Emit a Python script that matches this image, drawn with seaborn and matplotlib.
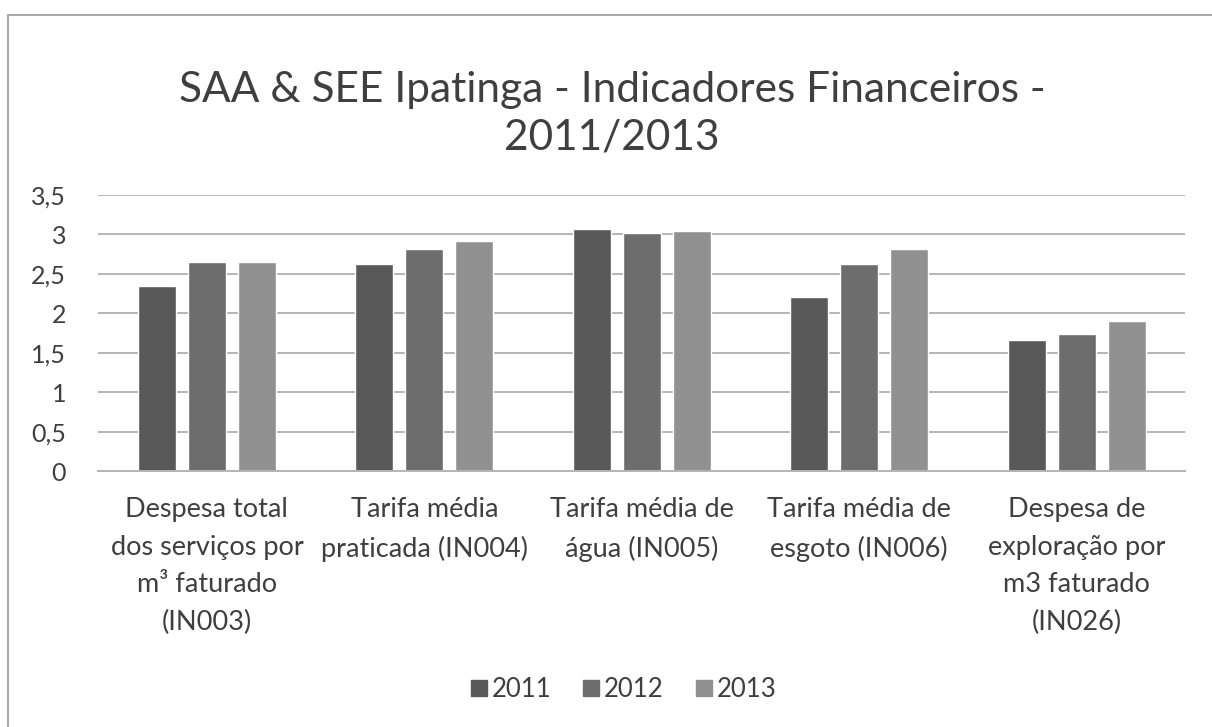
import matplotlib
matplotlib.use("Agg")
import matplotlib.pyplot as plt
import seaborn as sns
import pandas as pd
from matplotlib.lines import Line2D

categories = [
    "Despesa total\ndos serviços por\nm³ faturado\n(IN003)",
    "Tarifa média\npraticada (IN004)",
    "Tarifa média de\nágua (IN005)",
    "Tarifa média de\nesgoto (IN006)",
    "Despesa de\nexploração por\nm3 faturado\n(IN026)",
]
years = ["2011", "2012", "2013"]
values_2011 = [2.34, 2.63, 3.07, 2.21, 1.66]
values_2012 = [2.65, 2.81, 3.02, 2.62, 1.74]
values_2013 = [2.65, 2.92, 3.04, 2.81, 1.90]
y_ticks = [0, 0.5, 1, 1.5, 2, 2.5, 3, 3.5]
y_tick_labels = ["0", "0,5", "1", "1,5", "2", "2,5", "3", "3,5"]
title_lines = ["SAA & SEE Ipatinga - Indicadores Financeiros -", "2011/2013"]

colors = ["#595959", "#6d6d6d", "#919191"]

rows = []
for yr, vals in zip(years, [values_2011, values_2012, values_2013]):
    for c, v in zip(categories, vals):
        rows.append({"cat": c, "year": yr, "value": v})
df = pd.DataFrame(rows)

sns.set_theme(style="white")
plt.rcParams["font.family"] = ["Lato", "DejaVu Sans"]
text_color = "#3f3f3f"

fig = plt.figure(figsize=(12.12, 7.27), dpi=100)
ax = fig.add_axes([0.081, 0.352, 0.897, 0.380])

sns.barplot(data=df, x="cat", y="value", hue="year", order=categories,
            hue_order=years, palette=colors, width=0.69, gap=0.24,
            ax=ax, legend=False, errorbar=None, saturation=1)

ax.set_ylim(0, 3.5)
ax.set_xlim(-0.5, len(categories) - 0.5)
ax.set_yticks(y_ticks)
ax.set_yticklabels(y_tick_labels)
ax.yaxis.grid(True, color="#b4b4b4", linewidth=1.4)
ax.set_axisbelow(True)
for s in ["top", "right", "left"]:
    ax.spines[s].set_visible(False)
ax.spines["bottom"].set_color("#b4b4b4")
ax.spines["bottom"].set_linewidth(1.4)
ax.set_xlabel("")
ax.set_ylabel("")
ax.tick_params(axis="y", labelsize=18, colors=text_color, length=0, pad=23)
ax.tick_params(axis="x", labelsize=19.5, colors=text_color, length=0, pad=19)
for lbl in ax.get_xticklabels():
    lbl.set_linespacing(1.62)
    lbl.set_ha("center")

fig.text(0.505, 1 - 102 / 727, title_lines[0], ha="center", va="baseline",
         fontsize=30.5, color=text_color)
fig.text(0.505, 1 - 150 / 727, title_lines[1], ha="center", va="baseline",
         fontsize=30.5, color=text_color)

handles = [Line2D([0], [0], marker="s", linestyle="none", markersize=11,
                  markerfacecolor=c, markeredgecolor=c) for c in colors]
fig.legend(handles, years, loc="center", bbox_to_anchor=(0.513, 0.051), ncol=3,
           frameon=False, fontsize=18.5, handletextpad=0.05, columnspacing=1.1,
           labelcolor=text_color, handlelength=0.9)

# chart frame (left and top edges)
fig.add_artist(Line2D([0.007, 0.007], [0.0, 0.979], color="#9a9a9a", linewidth=1.2,
                      transform=fig.transFigure))
fig.add_artist(Line2D([0.007, 1.0], [0.979, 0.979], color="#9a9a9a", linewidth=1.2,
                      transform=fig.transFigure))

fig.savefig("out.png", dpi=100)
